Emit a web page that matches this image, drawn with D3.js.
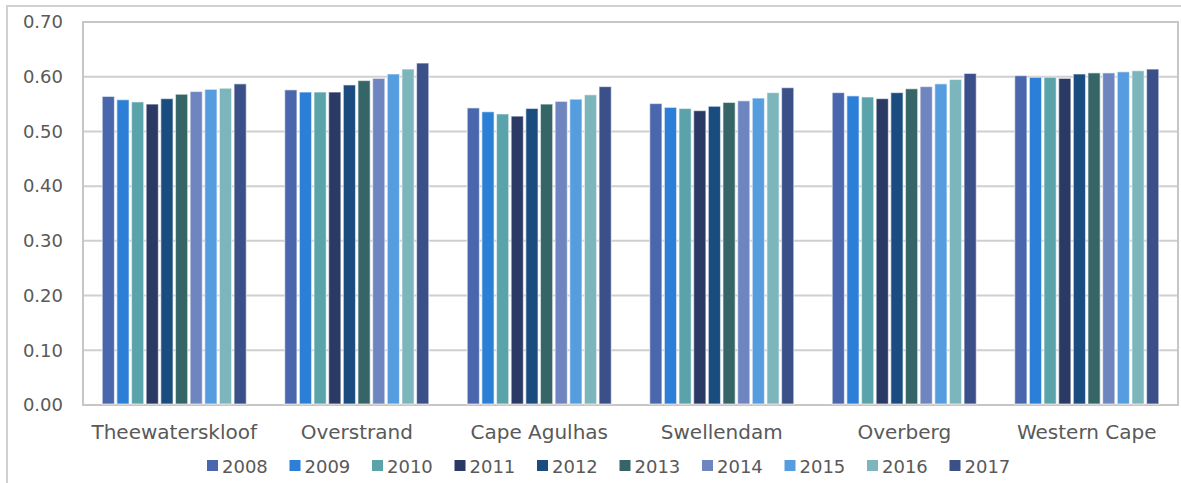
<!DOCTYPE html>
<html><head><meta charset="utf-8">
<script src="https://cdn.jsdelivr.net/npm/d3@7/dist/d3.min.js"></script>
<style>
html,body{margin:0;padding:0;background:#fff;}
svg text{font-family:"DejaVu Sans",sans-serif;fill:#595959;}
</style></head>
<body>
<svg id="chart" width="1181" height="483"></svg>
<script>
const categories = ["Theewaterskloof","Overstrand","Cape Agulhas","Swellendam","Overberg","Western Cape"];
const years = ["2008","2009","2010","2011","2012","2013","2014","2015","2016","2017"];
const colors = ["#4a66ac","#2b7fd6","#5ba3ab","#2b3a64","#1b4c7f","#356567","#6e85c0","#559ddf","#7cb5bc","#3b5089"];
const s2008 = [0.564,0.576,0.543,0.551,0.571,0.602];
const s2009 = [0.558,0.572,0.536,0.544,0.565,0.599];
const s2010 = [0.554,0.572,0.532,0.542,0.563,0.599];
const s2011 = [0.550,0.572,0.528,0.538,0.560,0.597];
const s2012 = [0.560,0.585,0.542,0.546,0.571,0.605];
const s2013 = [0.568,0.593,0.550,0.553,0.578,0.607];
const s2014 = [0.573,0.597,0.555,0.556,0.582,0.607];
const s2015 = [0.577,0.605,0.559,0.561,0.587,0.609];
const s2016 = [0.579,0.614,0.567,0.571,0.595,0.611];
const s2017 = [0.587,0.625,0.582,0.580,0.606,0.614];
const series = [s2008,s2009,s2010,s2011,s2012,s2013,s2014,s2015,s2016,s2017];
const yTicks = [0,0.1,0.2,0.3,0.4,0.5,0.6,0.7];

const svg = d3.select("#chart");
const L = 83, R = 1178, T = 22, B = 405;

// outer border
svg.append("rect").attr("x",7).attr("y",6).attr("width",1190).attr("height",500)
  .attr("fill","none").attr("stroke","#d0d0d0").attr("stroke-width",2);

const y = d3.scaleLinear().domain([0,0.7]).range([B,T]);
const x0 = d3.scaleBand().domain(categories).range([L,R]).padding(0);
const x1 = d3.scaleBand().domain(years).range([18, x0.bandwidth()-18]).padding(0);

// gridlines
svg.append("g").selectAll("line").data(yTicks).join("line")
  .attr("x1",L).attr("x2",R).attr("y1",d=>y(d)).attr("y2",d=>y(d))
  .attr("stroke","#cfcfcf").attr("stroke-width",2);

// plot border
svg.append("rect").attr("x",L).attr("y",T).attr("width",R-L).attr("height",B-T)
  .attr("fill","none").attr("stroke","#c6c6c6").attr("stroke-width",2);

// bars
const gCat = svg.append("g").selectAll("g").data(categories).join("g")
  .attr("transform",c=>`translate(${x0(c)},0)`);
gCat.selectAll("rect").data((c,ci)=>years.map((yr,si)=>({yr,si,v:series[si][ci]}))).join("rect")
  .attr("x",d=>x1(d.yr)+1.2).attr("width",x1.bandwidth()-2.4)
  .attr("y",d=>y(d.v)).attr("height",d=>B-1-y(d.v))
  .attr("fill",d=>colors[d.si])
  .attr("stroke","rgba(255,255,255,0.55)").attr("stroke-width",1.2);

// y axis labels
const yAxis = d3.axisLeft(y).tickValues(yTicks).tickFormat(d3.format(".2f")).tickSize(0).tickPadding(20);
const ya = svg.append("g").attr("transform",`translate(${L},0)`).call(yAxis);
ya.select(".domain").remove();
ya.selectAll("text").style("font-size","18px").attr("fill","#595959");

// x axis labels
const xAxis = d3.axisBottom(x0).tickSize(0).tickPadding(0);
const xa = svg.append("g").attr("transform",`translate(0,${B})`).call(xAxis);
xa.select(".domain").remove();
xa.selectAll("text").style("font-size","20px").attr("fill","#595959").attr("dy",null).attr("y",34);

// legend
const leg = svg.append("g").selectAll("g").data(years).join("g")
  .attr("transform",(d,i)=>`translate(${207+i*82.5},0)`);
leg.append("rect").attr("x",0).attr("y",460).attr("width",11).attr("height",11)
  .attr("fill",(d,i)=>colors[i]);
leg.append("text").attr("x",15).attr("y",472.5).style("font-size","18px").text(d=>d);
</script>
</body></html>
